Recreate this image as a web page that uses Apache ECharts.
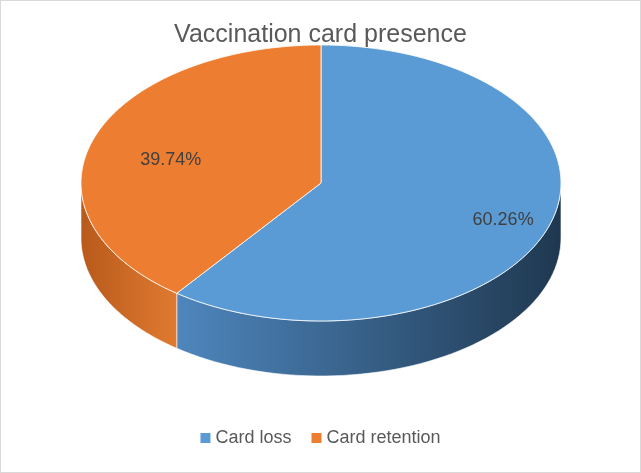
<!DOCTYPE html>
<html><head><meta charset="utf-8">
<script src="https://cdn.jsdelivr.net/npm/echarts@6/dist/echarts.min.js"></script>
<style>html,body{margin:0;padding:0;background:#fff}#c{width:639px;height:471px;border:1px solid #d9d9d9}</style>
</head><body><div id="c"></div>
<script>
const categories = ['Card loss', 'Card retention'];
const values = [60.26, 39.74];
const labels = ['60.26%', '39.74%'];
const topColors = ['#5b9bd5', '#ed7d31'];
const wallColors = [['#4e86bd', '#1f3850'], ['#b85a1c', '#e07a30']];

const chart = echarts.init(document.getElementById('c'));
function renderItem(params, api) {
  const cx = 320, cy = 182, rx = 240, ry = 138, depth = 55;
  const total = values.reduce((a, b) => a + b, 0);
  const pt = (t, dy) => [cx + rx * Math.sin(t), cy - ry * Math.cos(t) + dy];
  const children = [];
  const tops = [];
  let start = 0;
  values.forEach((v, i) => {
    const end = start + v / total * Math.PI * 2;
    const a = Math.max(start, Math.PI / 2), b = Math.min(end, Math.PI * 1.5);
    if (b > a) {
      const pts = [];
      const n = 60;
      for (let k = 0; k <= n; k++) pts.push(pt(a + (b - a) * k / n, 0));
      for (let k = n; k >= 0; k--) pts.push(pt(a + (b - a) * k / n, depth));
      children.push({
        type: 'polygon', shape: { points: pts },
        style: { fill: new echarts.graphic.LinearGradient(0, 0, 1, 0, [
          { offset: 0, color: wallColors[i][0] }, { offset: 1, color: wallColors[i][1] }]),
          stroke: '#ffffff', lineWidth: 0.6 }
      });
    }
    const tp = [[cx, cy]];
    const n2 = 120;
    for (let k = 0; k <= n2; k++) tp.push(pt(start + (end - start) * k / n2, 0));
    tops.push({ type: 'polygon', shape: { points: tp }, style: { fill: topColors[i], stroke: '#ffffff', lineWidth: 0.8 } });
    const mid = (start + end) / 2;
    const f = i === 0 ? 0.8 : 0.66;
    const lp = [cx + rx * f * Math.sin(mid), cy - ry * f * Math.cos(mid) + (i === 0 ? 2 : 6)];
    tops.push({ type: 'text', x: lp[0], y: lp[1], z2: 10,
      style: { text: labels[i], fill: '#404040', fontSize: 18, fontFamily: 'Liberation Sans', align: 'center', verticalAlign: 'middle' } });
    start = end;
  });
  return { type: 'group', children: children.concat(tops) };
}
chart.setOption({
  animation: false,
  color: topColors,
  title: { text: 'Vaccination card presence', left: 'center', top: 17,
    textStyle: { fontSize: 25, fontWeight: 'normal', color: '#595959', fontFamily: 'Liberation Sans' } },
  legend: { bottom: 20, left: 'center', icon: 'rect', itemWidth: 10, itemHeight: 10, itemGap: 20,
    textStyle: { fontSize: 18, color: '#595959', fontFamily: 'Liberation Sans' }, data: categories },
  series: [
    { type: 'pie', radius: [0, 0], silent: true, label: { show: false },
      data: categories.map((c, i) => ({ name: c, value: values[i] })) },
    { type: 'custom', coordinateSystem: 'none', renderItem: renderItem, data: [0] }
  ]
});
</script></body></html>
